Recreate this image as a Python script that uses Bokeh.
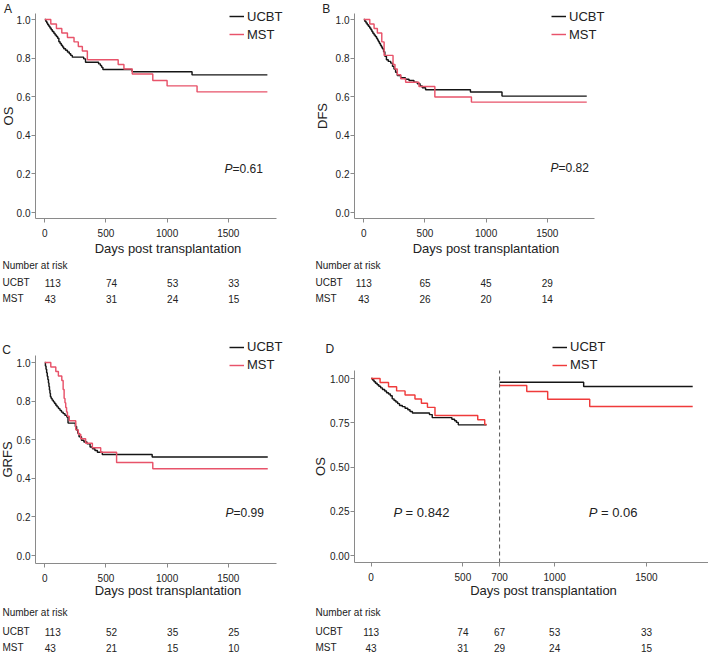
import math
from bokeh.plotting import figure
from bokeh.models import (Range1d, Label, Legend, LegendItem, FixedTicker,
                          ColumnDataSource, PrintfTickFormatter, GridBox)
from bokeh.layouts import column, row
from bokeh.embed import file_html
from bokeh.resources import INLINE
from bokeh.core.properties import value

# ---------------- data ----------------
groups = ["UCBT", "MST"]
risk_title = "Number at risk"
x_title = "Days post transplantation"

# A: overall survival
os_ucbt_t = [0, 8, 16, 24, 33, 42, 52, 62, 74, 84, 95, 105, 115, 125, 135, 145, 155, 170,
             185, 200, 212, 225, 318, 333, 440, 455, 465, 475, 715, 1204, 1820]
os_ucbt_s = [1.0, .991, .982, .973, .965, .956, .947, .938, .929, .920, .912, .903, .885, .876,
             .867, .858, .848, .841, .832, .823, .814, .805, .796, .779, .770, .761, .752, .741,
             .729, .713, .713]
os_mst_t = [0, 49, 95, 139, 185, 239, 274, 307, 348, 600, 647, 715, 883, 1000, 1245, 1820]
os_mst_s = [1.0, .977, .953, .930, .907, .884, .860, .837, .791, .767, .744, .718, .684, .656,
            .625, .625]

# B: disease-free survival
dfs_ucbt_t = [0, 8, 18, 28, 38, 48, 58, 66, 74, 84, 94, 104, 112, 120, 128, 136, 144, 152, 162,
              172, 185, 200, 220, 235, 247, 260, 274, 301, 340, 370, 410, 438, 460, 478, 505,
              872, 1130, 1823]
dfs_ucbt_s = [1.0, .991, .982, .973, .965, .956, .947, .938, .929, .920, .912, .903, .894, .885,
              .876, .867, .858, .848, .833, .810, .791, .783, .774, .757, .744, .727, .710, .698,
              .690, .684, .675, .667, .655, .646, .636, .624, .603, .603]
dfs_mst_t = [0, 49, 84, 111, 147, 166, 239, 255, 274, 302, 342, 451, 581, 880, 1823]
dfs_mst_s = [1.0, .977, .953, .930, .884, .814, .767, .744, .714, .693, .675, .653, .598, .572,
             .572]

# C: GVHD-free relapse-free survival
grfs_ucbt_t = [0, 5, 10, 15, 20, 25, 30, 34, 38, 42, 46, 52, 60, 70, 80, 90, 100, 112, 124, 136,
               150, 165, 180, 190, 250, 260, 270, 280, 300, 320, 345, 370, 390, 410, 430, 470,
               878, 1823]
grfs_ucbt_s = [1.0, .982, .965, .947, .929, .912, .894, .876, .858, .841, .823, .814, .805, .796,
               .788, .779, .770, .761, .752, .743, .735, .726, .717, .686, .668, .650, .633, .615,
               .597, .588, .579, .562, .553, .544, .535, .523, .510, .510]
grfs_mst_t = [0, 49, 90, 111, 139, 150, 158, 165, 171, 178, 185, 200, 253, 274, 294, 334, 389,
              457, 587, 883, 1823]
grfs_mst_s = [1.0, .977, .953, .930, .907, .860, .814, .791, .767, .744, .721, .698, .651, .628,
              .605, .582, .558, .535, .482, .450, .450]

# D: landmark analysis of OS at day 700
landmark_day = 700
lm1_ucbt_t = [0, 8, 16, 24, 33, 42, 52, 62, 74, 84, 95, 105, 115, 125, 135, 145, 155, 170,
              185, 200, 212, 225, 318, 333, 440, 455, 465, 475, 629]
lm1_ucbt_s = [1.0, .991, .982, .973, .965, .956, .947, .938, .929, .920, .912, .903, .885, .876,
              .867, .858, .848, .841, .832, .823, .814, .805, .796, .779, .770, .761, .752, .738,
              .738]
lm1_mst_t = [0, 49, 95, 139, 185, 239, 274, 307, 348, 581, 619, 629]
lm1_mst_s = [1.0, .977, .953, .930, .907, .884, .860, .837, .791, .767, .740, .740]
lm2_ucbt_t = [700, 1158, 1752]
lm2_ucbt_s = [.979, .955, .955]
lm2_mst_t = [700, 848, 962, 1191, 1752]
lm2_mst_s = [.960, .927, .883, .842, .842]

p_os, p_dfs, p_grfs = "0.61", "0.82", "0.99"
p_lm1, p_lm2 = "0.842", "0.06"

risk_ticks = [0, 500, 1000, 1500]
os_risk_ucbt = [113, 74, 53, 33]
os_risk_mst = [43, 31, 24, 15]
dfs_risk_ucbt = [113, 65, 45, 29]
dfs_risk_mst = [43, 26, 20, 14]
grfs_risk_ucbt = [113, 52, 35, 25]
grfs_risk_mst = [43, 21, 15, 10]
lm_ticks = [0, 500, 700, 1000, 1500]
lm_risk_ucbt = [113, 74, 67, 53, 33]
lm_risk_mst = [43, 31, 29, 24, 15]

y_ticks_1 = [0, 0.2, 0.4, 0.6, 0.8, 1.0]
y_ticks_2 = [0, 0.25, 0.5, 0.75, 1.0]

# ---------------- style / layout ----------------
FONT = "Liberation Sans"
BLACK = "#151515"
RED = "#e8536a"
RED_D = "#ef3b3b"
AXIS = "#8a8a8a"
TXT = "#222222"
LW = 1.45
PAGE_W, PAGE_H = 708, 653
COLS = [(0, 312), (312, 396)]            # (left, width)
ROWS = [(0, 259, 47), (306, 297, 50)]    # (top, main height, table height)

overlay_texts = []   # (text, x, y, size, align, angle)


def panel(col, rowi, L, B, AR, AT, xmap, ymap, ylab, ylab_xy, xlab_xy, xticks, yticks,
          yfmt, curves, letter, legend_at, pvals, pv_size, risk, tab_align, tab_label_x,
          tab_rows, landmark=None):
    cx, W = COLS[col]
    ry, H, TH = ROWS[rowi]
    x0px, ppd = xmap
    y0px, y1px = ymap
    mbl = round(L - cx)
    mbb = round(H - (B - ry))
    gL, gR = cx + mbl, cx + W
    gT, gB = ry, ry + H - mbb

    def dx(px):
        return (px - x0px) / ppd

    def dy(py):
        return (y0px - py) / (y0px - y1px)

    p = figure(width=W, height=H, x_range=Range1d(dx(gL), dx(gR)),
               y_range=Range1d(dy(gB), dy(gT)),
               output_backend="svg", toolbar_location=None,
               min_border_left=mbl, min_border_right=0,
               min_border_top=0, min_border_bottom=mbb)
    p.outline_line_color = None
    p.grid.visible = False
    for ax in (p.xaxis[0], p.yaxis[0]):
        ax.axis_line_color = AXIS
        ax.major_tick_line_color = AXIS
        ax.minor_tick_line_color = None
        ax.major_tick_in = 0
        ax.major_tick_out = 4
        ax.major_label_text_font = FONT
        ax.major_label_text_font_size = "10px"
        ax.major_label_text_color = TXT
    p.xaxis.bounds = (dx(gL), dx(AR))
    p.yaxis.bounds = (dy(gB), dy(AT))
    p.xaxis.ticker = FixedTicker(ticks=xticks)
    p.yaxis.ticker = FixedTicker(ticks=yticks)
    p.yaxis.formatter = PrintfTickFormatter(format=yfmt)
    p.xaxis.major_label_standoff = 6
    p.yaxis.major_label_standoff = 1
    # axis titles drawn on the overlay so they sit exactly as in the reference
    overlay_texts.append((ylab, ylab_xy[0], ylab_xy[1], "13px", "center", math.pi / 2))
    overlay_texts.append((x_title, xlab_xy[0], xlab_xy[1], "13px", "center", 0))

    rends = {g: [] for g in groups}
    for t, s, color, g in curves:
        r = p.step(t, s, mode="after", line_color=color, line_width=LW)
        rends[g].append(r)

    if landmark is not None:
        p.segment(x0=[landmark], y0=[dy(gB)], x1=[landmark], y1=[dy(AT)],
                  line_color="#555555", line_dash="4 3", line_width=1)

    gx, gy = legend_at
    legend = Legend(items=[LegendItem(label=g, renderers=rends[g][:1]) for g in groups],
                    location=(gx - gL, gB - (gy - 8 + 34)), orientation="vertical",
                    glyph_width=15, glyph_height=16, label_height=16,
                    label_standoff=3, spacing=2, padding=0, margin=0,
                    border_line_color=None, background_fill_alpha=0,
                    label_text_font=FONT, label_text_font_size="13px",
                    label_text_color=TXT)
    p.add_layout(legend)

    overlay_texts.append((letter[0], letter[1], letter[2], "12px", "left", 0))

    for px, py, ptxt, gap in pvals:
        p.add_layout(Label(x=px, y=py, text="P", text_font=FONT, text_font_style="italic",
                           text_font_size=pv_size, text_align="right",
                           text_baseline="middle", text_color=TXT))
        p.add_layout(Label(x=px, y=py, x_offset=gap, text=ptxt, text_font=FONT,
                           text_font_size=pv_size, text_align="left",
                           text_baseline="middle", text_color=TXT))

    # number-at-risk table (frame aligned with the main plot, same x scale)
    tb = figure(width=W, height=TH, x_range=p.x_range, y_range=Range1d(TH, 0),
                output_backend="svg", toolbar_location=None, min_border=0,
                x_axis_location=None, y_axis_location=None)
    tb.outline_line_color = None
    tb.grid.visible = False
    ticks, ru, rm = risk
    d0, d1, d2 = [v - (ry + H) for v in tab_rows]
    src = ColumnDataSource(dict(x=list(ticks) + list(ticks),
                                y=[d1] * len(ticks) + [d2] * len(ticks),
                                t=[str(v) for v in ru] + [str(v) for v in rm]))
    tb.text(x="x", y="y", text="t", source=src, text_font=value(FONT),
            text_font_size="10px", text_align=tab_align, text_baseline="middle",
            text_color=TXT)
    for txt, yy in zip([risk_title] + groups, tab_rows):
        overlay_texts.append((txt, tab_label_x, yy, "10px", "left", 0))
    return column(p, tb)


XA = (44.3, 0.1223)
XB = (363.3, 0.1223)
XD = (370.6, 0.18356)

pa = panel(0, 0, 35, 218, 276, 13, XA, (212, 19), "OS", (7.5, 115.5), (167.5, 247.5),
           risk_ticks, y_ticks_1, "%.1f",
           [(os_ucbt_t, os_ucbt_s, BLACK, "UCBT"), (os_mst_t, os_mst_s, RED, "MST")],
           ("A", 3.5, 8), (229, 16), [(1535, 0.223, "=" + p_os, 0)], "12px",
           (risk_ticks, os_risk_ucbt, os_risk_mst), "left", 2, (265, 282, 298))

pb = panel(1, 0, 354, 218, 594, 13, XB, (212, 19), "DFS", (322, 115.5), (485.5, 248),
           risk_ticks, y_ticks_1, "%.1f",
           [(dfs_ucbt_t, dfs_ucbt_s, BLACK, "UCBT"), (dfs_mst_t, dfs_mst_s, RED, "MST")],
           ("B", 321.7, 8), (551, 16), [(1592, 0.228, "=" + p_dfs, 0)], "12px",
           (risk_ticks, dfs_risk_ucbt, dfs_risk_mst), "center", 315, (265, 282, 298))

pc = panel(0, 1, 35, 563, 276, 355, XA, (555, 362), "GRFS", (6.7, 459), (167.5, 589.5),
           risk_ticks, y_ticks_1, "%.1f",
           [(grfs_ucbt_t, grfs_ucbt_s, BLACK, "UCBT"), (grfs_mst_t, grfs_mst_s, RED, "MST")],
           ("C", 1.7, 349), (229, 346.7), [(1543, 0.22, "=" + p_grfs, 0)], "12px",
           (risk_ticks, grfs_risk_ucbt, grfs_risk_mst), "left", 2, (612, 631, 647))

pd = panel(1, 1, 354, 562, 708, 370, XD, (555, 378), "OS", (320, 466), (543, 589.5),
           lm_ticks, y_ticks_2, "%.2f",
           [(lm1_ucbt_t, lm1_ucbt_s, BLACK, "UCBT"), (lm1_mst_t, lm1_mst_s, RED_D, "MST"),
            (lm2_ucbt_t, lm2_ucbt_s, BLACK, "UCBT"), (lm2_mst_t, lm2_mst_s, RED_D, "MST")],
           ("D", 325, 348.3), (552, 346.7),
           [(169, 0.245, "= " + p_lm1, 3.5), (1233, 0.245, "= " + p_lm2, 3.5)], "13px",
           (lm_ticks, lm_risk_ucbt, lm_risk_mst), "center", 315, (612, 631, 647),
           landmark=landmark_day)

base = column(row(pa, pb), row(pc, pd))

# transparent overlay for the texts that sit outside the plot frames
ov = figure(width=PAGE_W, height=PAGE_H, x_range=Range1d(0, PAGE_W),
            y_range=Range1d(PAGE_H, 0), output_backend="svg", toolbar_location=None,
            min_border=0, x_axis_location=None, y_axis_location=None)
ov.outline_line_color = None
ov.grid.visible = False
ov.background_fill_alpha = 0
ov.border_fill_alpha = 0
for txt, x, y, size, align, ang in overlay_texts:
    ov.add_layout(Label(x=x, y=y, text=txt, text_font=FONT, text_font_size=size,
                        text_align=align, text_baseline="middle", angle=ang,
                        text_color=TXT))

root = GridBox(children=[(base, 0, 0), (ov, 0, 0)])
open("out.html", "w").write(file_html(root, INLINE))
